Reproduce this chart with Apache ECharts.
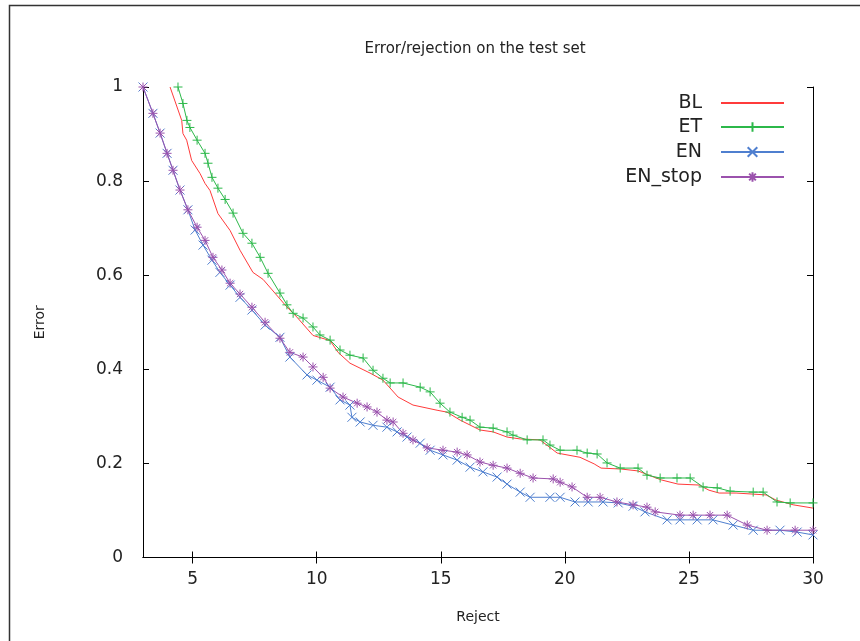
<!DOCTYPE html>
<html>
<head>
<meta charset="utf-8">
<script src="https://cdn.jsdelivr.net/npm/echarts@6/dist/echarts.min.js"></script>
<style>
html,body{margin:0;padding:0;background:#fff;}
#chart{width:860px;height:641px;}
</style>
</head>
<body>
<div id="chart"></div>
<script>
// ---- data ----
const seriesNames = ['BL', 'ET', 'EN', 'EN_stop'];
const xTicks = [5, 10, 15, 20, 25, 30];
const yTicks = [0, 0.2, 0.4, 0.6, 0.8, 1];

const blX = [4.09,4.56,4.61,4.76,4.96,5.30,5.50,5.70,6.02,6.51,6.91,7.43,7.84,8.79,9.20,9.85,10.54,10.86,11.34,12.15,12.67,13.28,13.88,14.85,15.25,15.78,16.58,17.11,17.67,18.20,19.00,19.69,20.61,21.18,21.46,22.27,22.95,23.48,23.88,24.56,25.41,25.81,26.22,26.90,28.11,28.51,29.20,30.0];
const blY = [1.0,0.929,0.901,0.887,0.844,0.816,0.795,0.780,0.731,0.695,0.653,0.606,0.591,0.533,0.511,0.472,0.461,0.436,0.413,0.392,0.377,0.341,0.324,0.313,0.309,0.292,0.271,0.267,0.256,0.252,0.250,0.222,0.213,0.199,0.190,0.188,0.184,0.173,0.165,0.156,0.154,0.143,0.137,0.137,0.133,0.122,0.112,0.105];

const etX = [4.41,4.61,4.77,4.89,5.18,5.50,5.62,5.78,6.02,6.31,6.63,7.03,7.39,7.72,8.04,8.52,8.80,9.05,9.45,9.85,10.13,10.54,10.94,11.34,11.87,12.27,12.67,12.96,13.48,14.17,14.57,14.97,15.37,15.86,16.18,16.58,17.11,17.67,17.91,18.48,19.12,19.40,19.81,20.49,20.90,21.30,21.70,22.23,22.95,23.31,23.84,24.52,25.05,25.57,26.14,26.66,27.59,27.99,28.55,29.08,30.0];
const etY = [1.0,0.965,0.929,0.914,0.887,0.859,0.838,0.808,0.785,0.761,0.732,0.689,0.668,0.638,0.604,0.562,0.537,0.519,0.509,0.490,0.473,0.462,0.441,0.430,0.424,0.398,0.381,0.371,0.371,0.362,0.352,0.328,0.309,0.298,0.292,0.277,0.275,0.267,0.260,0.250,0.250,0.239,0.228,0.228,0.222,0.220,0.201,0.190,0.190,0.175,0.169,0.169,0.169,0.150,0.148,0.141,0.139,0.139,0.118,0.116,0.116];

const enX = [3.0,3.40,3.69,3.97,4.21,4.49,4.81,5.10,5.42,5.78,6.10,6.51,6.91,7.39,7.92,8.52,8.92,9.61,10.01,10.54,10.94,11.34,11.42,11.75,12.27,12.83,13.24,13.64,14.17,14.57,15.09,15.66,16.18,16.70,17.27,17.67,18.20,18.60,19.40,19.81,20.41,20.94,21.54,22.15,22.75,23.23,24.12,24.64,25.33,25.97,26.78,27.59,28.67,29.36,30.0];
const enY = [1.0,0.944,0.902,0.859,0.823,0.781,0.739,0.696,0.664,0.632,0.606,0.579,0.553,0.526,0.494,0.468,0.426,0.388,0.377,0.362,0.335,0.324,0.298,0.288,0.281,0.277,0.267,0.256,0.243,0.228,0.218,0.207,0.192,0.182,0.171,0.156,0.139,0.128,0.128,0.128,0.118,0.118,0.118,0.116,0.109,0.097,0.080,0.080,0.080,0.080,0.069,0.058,0.058,0.054,0.048];

const enStopX = [3.0,3.40,3.69,3.97,4.21,4.49,4.81,5.18,5.50,5.82,6.18,6.51,6.91,7.39,7.92,8.52,8.92,9.45,9.85,10.26,10.54,11.06,11.63,12.03,12.43,12.83,13.08,13.48,13.88,14.45,15.09,15.66,16.06,16.58,17.11,17.67,18.20,18.72,19.53,19.81,20.29,20.90,21.42,22.10,22.75,23.31,23.64,24.64,25.17,25.85,26.54,27.35,28.15,29.28,30.0];
const enStopY = [1.0,0.944,0.902,0.859,0.823,0.781,0.739,0.702,0.674,0.638,0.611,0.583,0.560,0.532,0.500,0.466,0.436,0.426,0.405,0.383,0.360,0.341,0.328,0.320,0.309,0.292,0.288,0.264,0.250,0.233,0.228,0.224,0.218,0.203,0.196,0.190,0.179,0.169,0.167,0.160,0.150,0.128,0.128,0.118,0.112,0.107,0.097,0.090,0.090,0.090,0.090,0.069,0.058,0.058,0.058];

// ---- styling ----
const colors = ['#ff3b3b', '#2cb84a', '#4f7fcf', '#9b52ad'];
const symPlus = 'path://M0,5L10,5M5,0L5,10';
const symCross = 'path://M0,0L10,10M10,0L0,10';
const symStar = 'path://M0,5L10,5M5,0L5,10M1.5,1.5L8.5,8.5M8.5,1.5L1.5,8.5';
const symbols = ['none', symPlus, symCross, symStar];
const xs = [blX, etX, enX, enStopX];
const ys = [blY, etY, enY, enStopY];

const FONT = 'DejaVu Sans';

function pairs(a, b) { return a.map((v, i) => [v, b[i]]); }

const series = seriesNames.map((name, i) => ({
  name: name,
  type: 'line',
  data: pairs(xs[i], ys[i]),
  xAxisIndex: 0,
  yAxisIndex: 0,
  symbol: symbols[i],
  symbolSize: 9,
  showSymbol: i !== 0,
  showAllSymbol: true,
  animation: false,
  lineStyle: { color: colors[i], width: 1 },
  itemStyle: { color: colors[i], borderColor: colors[i], borderWidth: 1 },
  emphasis: { disabled: true },
  clip: true
}));

const legendTops = [93, 117, 142, 167];
const legends = seriesNames.map((name, i) => {
  const lg = {
    data: [name],
    orient: 'vertical',
    right: 75,
    top: legendTops[i],
    align: 'right',
    padding: 0,
    itemWidth: 63,
    itemHeight: 12,
    selectedMode: false,
    textStyle: { fontFamily: FONT, fontSize: 19, color: '#222', padding: [0, 14, 0, 0], lineHeight: 20 }
  };
  if (i === 0) lg.itemStyle = { opacity: 0 };
  return lg;
});

const axisCommon = {
  type: 'value',
  axisLine: { show: true, lineStyle: { color: '#000', width: 1 } },
  splitLine: { show: false },
  axisTick: { show: true, inside: true, length: 6, lineStyle: { color: '#000', width: 1 } }
};

const option = {
  animation: false,
  backgroundColor: '#fff',
  title: {
    text: 'Error/rejection on the test set',
    left: 470, top: 37, textAlign: 'center',
    textStyle: { fontFamily: FONT, fontSize: 15, fontWeight: 'normal', color: '#222' }
  },
  legend: legends,
  grid: { left: 143, top: 87, right: 47, bottom: 83.5, containLabel: false },
  xAxis: [
    Object.assign({}, axisCommon, {
      position: 'bottom', min: 3, max: 30,
      name: 'Reject', nameLocation: 'middle', nameGap: 53,
      nameTextStyle: { fontFamily: FONT, fontSize: 14, color: '#222' },
      axisLabel: { show: true, customValues: xTicks, margin: 14, fontFamily: FONT, fontSize: 17, color: '#222' },
      axisTick: Object.assign({}, axisCommon.axisTick, { customValues: xTicks })
    }),
    Object.assign({}, axisCommon, {
      position: 'top', min: 3, max: 30,
      axisLabel: { show: false, customValues: xTicks },
      axisTick: Object.assign({}, axisCommon.axisTick, { customValues: xTicks })
    })
  ],
  yAxis: [
    Object.assign({}, axisCommon, {
      position: 'left', min: 0, max: 1, interval: 0.2,
      name: 'Error', nameLocation: 'middle', nameGap: 96, nameRotate: 90,
      nameTextStyle: { fontFamily: FONT, fontSize: 14, color: '#222' },
      axisLabel: { show: true, margin: 20, fontFamily: FONT, fontSize: 17, color: '#222' }
    }),
    Object.assign({}, axisCommon, {
      position: 'right', min: 0, max: 1, interval: 0.2,
      axisLabel: { show: false }
    })
  ],
  graphic: [{
    type: 'rect', left: 7, top: 3, silent: true, z: 100,
    shape: { width: 900, height: 700 },
    style: { fill: 'none', stroke: '#333', lineWidth: 1.5 }
  }],
  series: series
};

const chart = echarts.init(document.getElementById('chart'), null, { renderer: 'canvas' });
chart.setOption(option);
</script>
</body>
</html>
